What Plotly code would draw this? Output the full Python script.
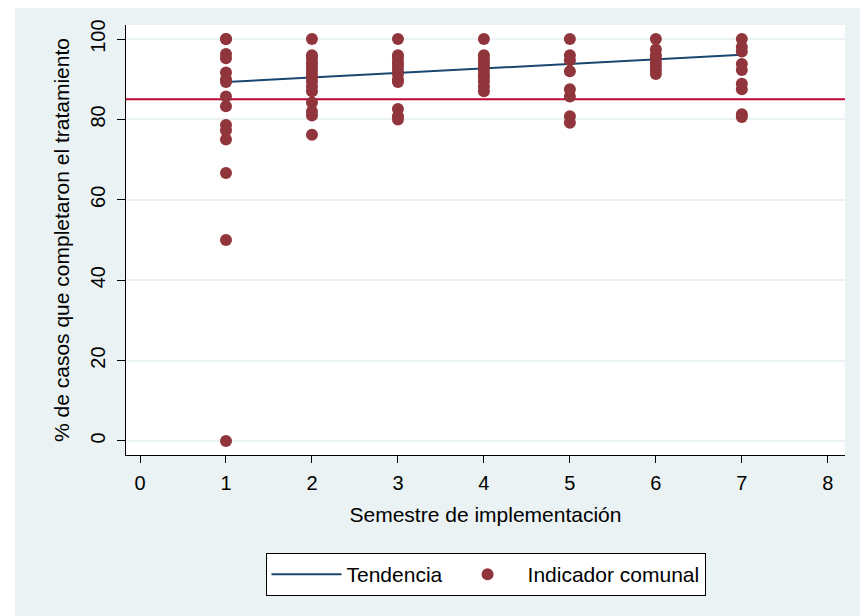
import plotly.graph_objects as go

# ---- data ----
semestres = [1, 2, 3, 4, 5, 6, 7]
valores_s1 = [100, 100, 96.3, 95.2, 91.7, 90.0, 89.3, 85.7, 83.3, 78.6, 77.3, 75.0, 66.7, 50.0, 0.0]
valores_s2 = [100, 96.0, 95.2, 94.1, 93.3, 92.3, 91.3, 90.5, 89.5, 88.2, 87.0, 84.2, 82.0, 81.0, 76.2]
valores_s3 = [100, 96.0, 95.2, 94.1, 93.3, 92.3, 91.3, 90.0, 89.3, 82.6, 80.8, 80.0]
valores_s4 = [100, 96.0, 95.0, 94.1, 93.3, 92.3, 91.3, 90.5, 89.5, 88.2, 87.0]
valores_s5 = [100, 96.0, 94.7, 92.0, 87.5, 85.7, 80.8, 79.2]
valores_s6 = [100, 97.4, 96.0, 95.2, 94.1, 93.3, 92.3, 91.3]
valores_s7 = [100, 98.0, 96.9, 93.8, 92.3, 88.9, 87.5, 81.3, 80.6]
tendencia_x = [1, 7]
tendencia_y = [89.3, 96.1]
meta = 85
x_ticks = [0, 1, 2, 3, 4, 5, 6, 7, 8]
y_ticks = [0, 20, 40, 60, 80, 100]

valores = [valores_s1, valores_s2, valores_s3, valores_s4, valores_s5, valores_s6, valores_s7]
xs, ys = [], []
for s, vals in zip(semestres, valores):
    xs += [s] * len(vals)
    ys += vals

FONT = "Liberation Sans, Arial, sans-serif"
BG = "#eaf2f3"

# the page body adds an 8px offset; the figure is sized to fit the window
OFF = 8
W, H = 868 - OFF, 616 - OFF
L, T = 126 - OFF, 25 - OFF
PW, PH = 719, 430

fig = go.Figure()
fig.add_trace(go.Scatter(
    x=tendencia_x, y=tendencia_y, mode="lines", name="Tendencia",
    line=dict(color="#1a476f", width=2),
))
fig.add_trace(go.Scatter(
    x=xs, y=ys, mode="markers", name="Indicador comunal",
    marker=dict(color="#90353b", size=12, line=dict(width=0)),
))

fig.add_shape(type="line", xref="paper", x0=0, x1=1, yref="y", y0=meta, y1=meta,
              line=dict(color="#c10534", width=2), layer="below")

# white outer strip on the left (outside the Stata-style background)
fig.add_shape(type="rect", xref="paper", yref="paper", x0=-0.3, x1=(15 - OFF - L) / PW,
              y0=-0.5, y1=1.2, fillcolor="white", line=dict(width=0), layer="below")

fig.update_layout(
    width=W, height=H,
    margin=dict(l=L, r=W - L - PW, t=T, b=H - T - PH),
    paper_bgcolor=BG, plot_bgcolor="white",
    font=dict(family=FONT, size=20, color="black"),
    showlegend=True,
    legend=dict(
        orientation="h", x=0.5, xanchor="center", y=-0.228, yanchor="top",
        bgcolor="white", bordercolor="black", borderwidth=1,
        font=dict(family=FONT, size=21, color="black"),
        itemwidth=70, tracegroupgap=0,
    ),
    xaxis=dict(
        range=[-0.163, 8.2], tickvals=x_ticks, ticktext=[str(t) for t in x_ticks],
        showgrid=False, zeroline=False, showline=True, linecolor="black", linewidth=1,
        ticks="outside", ticklen=7, tickcolor="black", tickwidth=1,
        tickfont=dict(family=FONT, size=20), ticklabelstandoff=3,
        title=dict(text="Semestre de implementación", font=dict(family=FONT, size=21), standoff=14),
    ),
    yaxis=dict(
        range=[-3.5, 103.5], tickvals=y_ticks, ticktext=[str(t) for t in y_ticks],
        showgrid=True, gridcolor=BG, gridwidth=2, zeroline=False,
        showline=True, linecolor="black", linewidth=1,
        ticks="outside", ticklen=8, tickcolor="black", tickwidth=1,
        tickangle=-90, tickfont=dict(family=FONT, size=20), ticklabelstandoff=4,
        title=dict(text="% de casos que completaron el tratamiento", font=dict(family=FONT, size=21), standoff=11),
    ),
)

fig.write_html("out.html")
